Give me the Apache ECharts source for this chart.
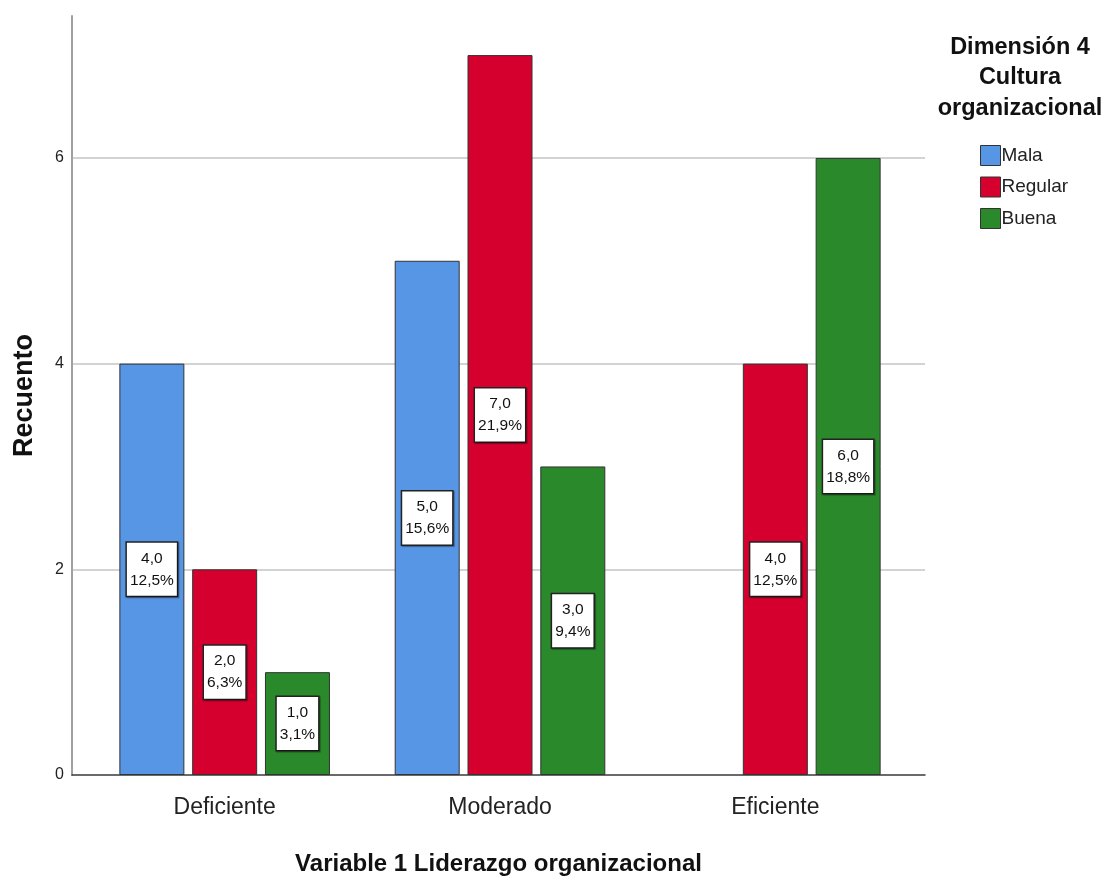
<!DOCTYPE html>
<html>
<head>
<meta charset="utf-8">
<script src="https://cdn.jsdelivr.net/npm/echarts@6/dist/echarts.min.js"></script>
<style>
  html, body { margin: 0; padding: 0; background: #fff; }
  #chart { width: 1107px; height: 881px; }
</style>
</head>
<body>
<div id="chart"></div>
<script>
// Counts of "Cultura organizacional" level within each "Liderazgo organizacional" group
const categories = ['Deficiente', 'Moderado', 'Eficiente'];
const seriesNames = ['Mala', 'Regular', 'Buena'];
const mala = [4, 5, null];
const regular = [2, 7, 4];
const buena = [1, 3, 6];
const yTicks = [0, 2, 4, 6];

const colors = ['#5796e4', '#d5002e', '#2a892a'];
const FONT = '"Liberation Sans Narrow", "Liberation Sans", Arial, sans-serif';
const allValues = [mala, regular, buena];
const total = allValues.flat().reduce((s, v) => s + (v || 0), 0);

function fmt(v, d) { return v.toFixed(d).replace('.', ','); }

const yMax = 7.38;

const chart = echarts.init(document.getElementById('chart'));
chart.setOption({
  animation: false,
  backgroundColor: '#fff',
  grid: [
    // frame grid: axis lines and reference lines span the whole plot
    { left: 72, right: 182, top: 16, bottom: 106 },
    // bar grid: inner padding on both sides
    { left: 87, right: 194, top: 16, bottom: 106 }
  ],
  xAxis: [
    {
      gridIndex: 0, type: 'value', min: 0, max: 1,
      axisLine: { show: true, lineStyle: { color: '#3a3a3a', width: 1.5 } },
      axisTick: { show: false }, axisLabel: { show: false }, splitLine: { show: false },
      name: 'Variable 1 Liderazgo organizacional', nameLocation: 'middle', nameGap: 77,
      nameTextStyle: { fontFamily: FONT, fontSize: 24, fontWeight: 'bold', color: '#111' }
    },
    {
      gridIndex: 1, type: 'category', data: categories,
      axisLine: { show: false }, axisTick: { show: false },
      axisLabel: { fontFamily: FONT, fontSize: 23, color: '#222', margin: 21 }
    }
  ],
  yAxis: [
    {
      gridIndex: 0, type: 'value', min: 0, max: yMax, interval: 2,
      axisLine: { show: true, lineStyle: { color: '#a0a0a0', width: 2 } },
      axisTick: { show: false },
      axisLabel: {
        fontFamily: FONT, fontSize: 16, color: '#222', margin: 8,
        showMaxLabel: false,
        formatter: v => yTicks.includes(v) ? String(v) : ''
      },
      splitLine: { show: true, showMinLine: false, showMaxLine: false, lineStyle: { color: '#d3d3d3', width: 2 } },
      name: 'Recuento', nameLocation: 'middle', nameGap: 34, nameRotate: 90,
      nameTextStyle: { fontFamily: FONT, fontSize: 27, fontWeight: 'bold', color: '#111' }
    },
    {
      gridIndex: 1, type: 'value', min: 0, max: yMax, interval: 2,
      show: false, splitLine: { show: false }
    }
  ],
  legend: {
    orient: 'vertical', left: 975, top: 140, itemGap: 10.5,
    itemWidth: 20, itemHeight: 20, icon: 'rect',
    data: seriesNames,
    textStyle: { fontFamily: FONT, fontSize: 19, color: '#222', padding: [0, 0, 0, -4] },
    itemStyle: { borderColor: '#333', borderWidth: 1 }
  },
  graphic: [{
    type: 'text', x: 1020, y: 32,
    style: {
      text: 'Dimensión 4\nCultura\norganizacional',
      align: 'center', verticalAlign: 'top',
      fontFamily: FONT, fontSize: 23.5, fontWeight: 'bold', lineHeight: 30.5, fill: '#111'
    }
  }],
  series: seriesNames.map((name, i) => ({
    name, type: 'bar', xAxisIndex: 1, yAxisIndex: 1,
    data: allValues[i],
    barWidth: 65, barGap: '12%',
    itemStyle: { color: colors[i], borderColor: '#333', borderWidth: 1 },
    label: {
      show: true, position: 'inside',
      formatter: p => p.value == null ? '' : fmt(p.value, 1) + '\n' + fmt(p.value / total * 100, 1) + '%',
      fontFamily: FONT, fontSize: 15.5, lineHeight: 22, color: '#111',
      backgroundColor: '#fff', borderColor: '#222', borderWidth: 1.5,
      padding: [5, 3, 4, 3],
      shadowColor: 'rgba(0,0,0,0.35)', shadowOffsetX: 1, shadowOffsetY: 1, shadowBlur: 1
    }
  }))
});
</script>
</body>
</html>
